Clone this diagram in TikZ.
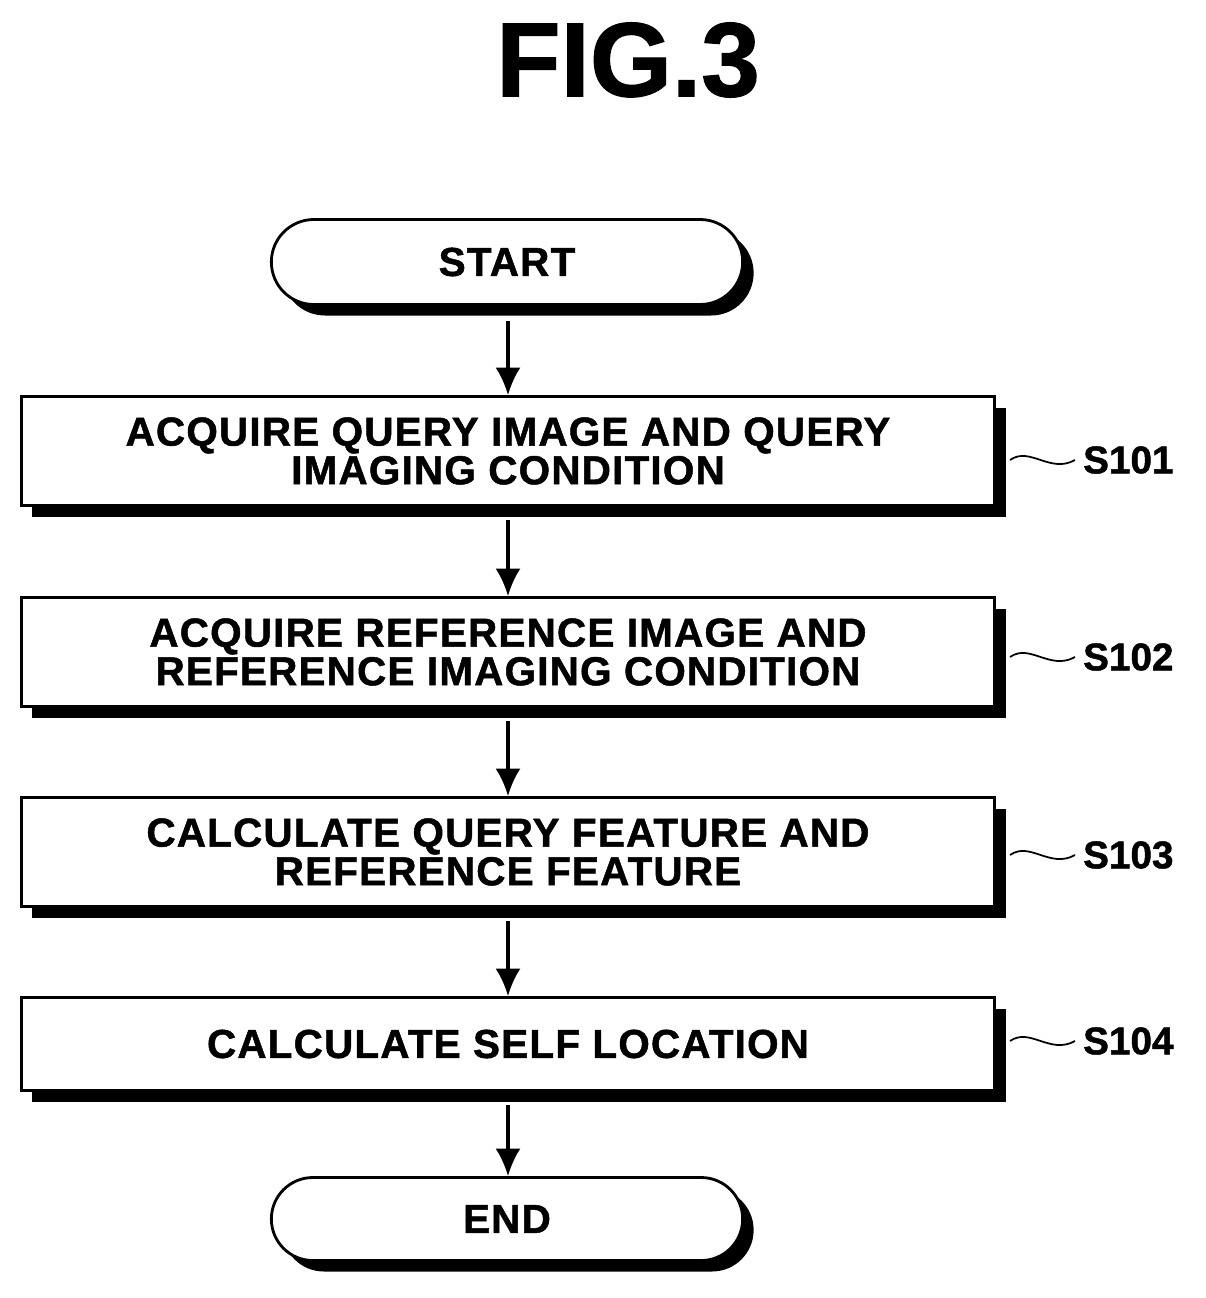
\documentclass[tikz,border=0pt]{standalone}
\usepackage{fontspec}
\setmainfont{Liberation Sans}[FakeBold=1.2]
\newfontfamily\boxfont{Liberation Sans}[LetterSpace=3,FakeBold=1.2]
\usetikzlibrary{shadows,shapes.misc,arrows.meta}
\begin{document}
\begin{tikzpicture}[x=0.02cm,y=-0.02cm,->,>=latex]

     \tikzstyle{stepbox}=[draw=black,line width=1.6pt,fill=white,minimum width=973*0.02cm,align=center,
        font=\boxfont\bfseries\fontsize{23}{22}\selectfont,drop shadow={shadow xshift=0.22cm,shadow yshift=-0.22cm,opacity=1,fill=black}]
     \tikzstyle{term}=[stepbox,rounded rectangle,minimum width=483*0.02cm,minimum height=85*0.02cm]
     \tikzstyle{flow}=[line width=1.8pt,-{Latex[length=0.55cm,width=0.5cm]}]
     \tikzstyle{tag}=[font=\bfseries\fontsize{22}{22}\selectfont,anchor=west]

      \useasboundingbox (0,0) rectangle (1206,1298);

      \node[font=\bfseries\fontsize{60}{60}\selectfont] (fig) at (628,60) {FIG.3};

      \node[term] (start) at (507,262) {START};
      \node[stepbox,minimum height=109*0.02cm] (s101) at (508,451) {ACQUIRE QUERY IMAGE AND QUERY\\IMAGING CONDITION};
      \node[stepbox,minimum height=109*0.02cm] (s102) at (508,652) {ACQUIRE REFERENCE IMAGE AND\\REFERENCE IMAGING CONDITION};
      \node[stepbox,minimum height=109*0.02cm] (s103) at (508,852) {CALCULATE QUERY FEATURE AND\\REFERENCE FEATURE};
      \node[stepbox,minimum height=93*0.02cm] (s104) at (508,1044) {CALCULATE SELF LOCATION};
      \node[term,minimum height=83*0.02cm] (end) at (507,1219) {END};

      \draw[flow] (start.south -| s101.north) ++(0,15) coordinate (a0) -- (s101.north);
      \draw[flow] (s101.south) ++(0,13) coordinate (a1) -- (s102.north);
      \draw[flow] (s102.south) ++(0,13) coordinate (a2) -- (s103.north);
      \draw[flow] (s103.south) ++(0,13) coordinate (a3) -- (s104.north);
      \draw[flow] (s104.south) ++(0,13) coordinate (a4) -- (end.north -| s104.south);

      \foreach \s/\y in {101/460,102/657,103/855,104/1041} {
         \coordinate (w\s) at (1010,\y);
         \draw[-,line width=1pt] (w\s) .. controls (1030,\y-14) and (1050,\y+14) .. (1075,\y);
         \node[tag] (l\s) at (1077,\y) {S\s};
      }

  \end{tikzpicture}
\end{document}
